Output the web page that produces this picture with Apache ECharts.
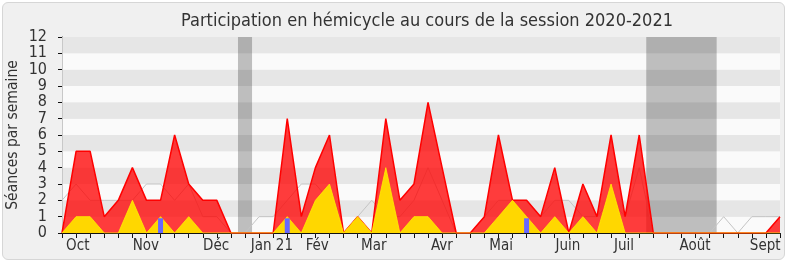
<!DOCTYPE html>
<html>
<head>
<meta charset="utf-8">
<script src="https://cdn.jsdelivr.net/npm/echarts@6/dist/echarts.min.js"></script>
<style>
  html, body { margin: 0; padding: 0; background: #ffffff; }
  #panel { position: absolute; left: 2px; top: 2px; width: 781px; height: 256px; background: #f0f0f0; border: 1px solid #d6d6d6; border-radius: 6px; }
  #chart { position: absolute; left: 0; top: 0; width: 790px; height: 267px; }
</style>
</head>
<body>
<div id="panel"></div>
<div id="chart"></div>
<script>
// Weekly values, week index 0..51 (session 2020-2021)
const presences = [0,5,5,1,2,4,2,2,6,3,2,2,0,0,0,0,7,1,4,6,0,1,0,7,2,3,8,4,0,0,1,6,2,2,1,4,0,3,1,6,1,6,0,0,0,0,0,0,0,0,0,1];
const interventions = [0,1,1,0,0,2,0,1,0,1,0,0,0,0,0,0,1,0,2,3,0,1,0,4,0,1,1,0,0,0,0,1,2,1,0,1,0,1,0,3,0,0,0,0,0,0,0,0,0,0,0,0];
const mediane = [2,3,2,2,2,2,3,3,2,3,1,1,0,0,1,1,2,3,3,2,0,1,2,1,1,2,4,2,0,0,1,2,2,2,1,2,2,1,1,2,1,4,0,0,0,0,0,1,0,1,1,1];
const questionWeeks = [7,16,33];
const questionValues = [0.9,0.9,0.9];
const vacationStart = [12.5,41.5];
const vacationEnd = [13.5,46.5];
const monthLabels = ['Oct','Nov','Déc','Jan 21','Fév','Mar','Avr','Mai','Juin','Juil','Août','Sept'];
const monthPositions = [1.12,5.96,10.95,14.91,18.13,22.15,26.98,31.19,35.93,39.92,44.96,49.95];

const FONT = "'DejaVu Sans Condensed', 'DejaVu Sans', sans-serif";
const weeks = presences.map((v, i) => i);
const toPairs = arr => arr.map((v, i) => [i, v]);

const chart = echarts.init(document.getElementById('chart'), null, { renderer: 'canvas' });
chart.setOption({
  backgroundColor: 'transparent',
  animation: false,
  textStyle: { fontFamily: FONT },
  title: {
    text: 'Participation en hémicycle au cours de la session 2020-2021',
    left: 422, top: 7, textAlign: 'center',
    textStyle: { fontFamily: FONT, fontSize: 18, fontWeight: 'normal', color: '#333' }
  },
  grid: { left: 62, right: 10, top: 37, bottom: 34, containLabel: false, outerBoundsMode: 'none' },
  xAxis: [{
    type: 'value', min: 0, max: 51, position: 'bottom',
    axisLine: { show: true, onZero: false, lineStyle: { color: '#111', width: 1 } },
    axisTick: { show: true, length: 5, lineStyle: { color: '#111' }, customValues: weeks },
    axisLabel: {
      show: true, customValues: monthPositions, margin: 6,
      fontFamily: FONT, fontSize: 15, color: '#333',
      formatter: function (val) {
        let best = 0;
        for (let i = 0; i < monthPositions.length; i++) {
          if (Math.abs(monthPositions[i] - val) < Math.abs(monthPositions[best] - val)) best = i;
        }
        return monthLabels[best];
      }
    },
    splitLine: { show: false }
  }, {
    type: 'value', min: 0, max: 51, position: 'top',
    axisLine: { show: false },
    axisTick: { show: true, inside: true, length: 1.5, lineStyle: { color: '#222' }, customValues: weeks },
    axisLabel: { show: false },
    splitLine: { show: false }
  }],
  yAxis: [{
    type: 'value', min: 0, max: 12, interval: 1,
    name: 'Séances par semaine', nameLocation: 'middle', nameGap: 41, nameRotate: 90,
    nameMoveOverlap: false,
    nameTextStyle: { fontFamily: FONT, fontSize: 15.5, color: '#333' },
    axisLine: { show: true, lineStyle: { color: '#111' } },
    axisTick: { show: true, length: 4, lineStyle: { color: '#111' } },
    axisLabel: { margin: 15, fontFamily: FONT, fontSize: 16, color: '#333' },
    splitLine: { show: false },
    splitArea: { show: true, areaStyle: { color: ['#fafafa', '#e6e6e6'] } }
  }, {
    type: 'value', min: 0, max: 12, interval: 1, position: 'right',
    axisLine: { show: true, lineStyle: { color: '#c8c8c8' } },
    axisTick: { show: false }, axisLabel: { show: false }, splitLine: { show: false }
  }],
  series: [{
    name: 'Médiane', type: 'line', z: 2, data: toPairs(mediane),
    symbol: 'none', smooth: false,
    lineStyle: { color: '#c4c4c4', width: 1 },
    markArea: {
      silent: true,
      itemStyle: { color: 'rgba(0,0,0,0.24)' },
      data: vacationStart.map((s, i) => [{ xAxis: s }, { xAxis: vacationEnd[i] }])
    }
  }, {
    name: 'Présences', type: 'line', z: 3, data: toPairs(presences),
    symbol: 'none', smooth: false,
    lineStyle: { color: '#ff0000', width: 1.5 },
    areaStyle: { color: 'rgba(255,0,0,0.76)', opacity: 1, origin: 'start' }
  }, {
    name: 'Interventions', type: 'line', z: 4, data: toPairs(interventions),
    symbol: 'none', smooth: false,
    lineStyle: { color: 'rgba(255,240,0,0.8)', width: 1 },
    areaStyle: { color: '#ffd700', opacity: 1, origin: 'start' }
  }, {
    name: 'Questions', type: 'bar', z: 5,
    data: questionWeeks.map((w, i) => [w, questionValues[i]]),
    barWidth: 5,
    itemStyle: { color: '#6868ff' }
  }]
});
</script>
</body>
</html>
